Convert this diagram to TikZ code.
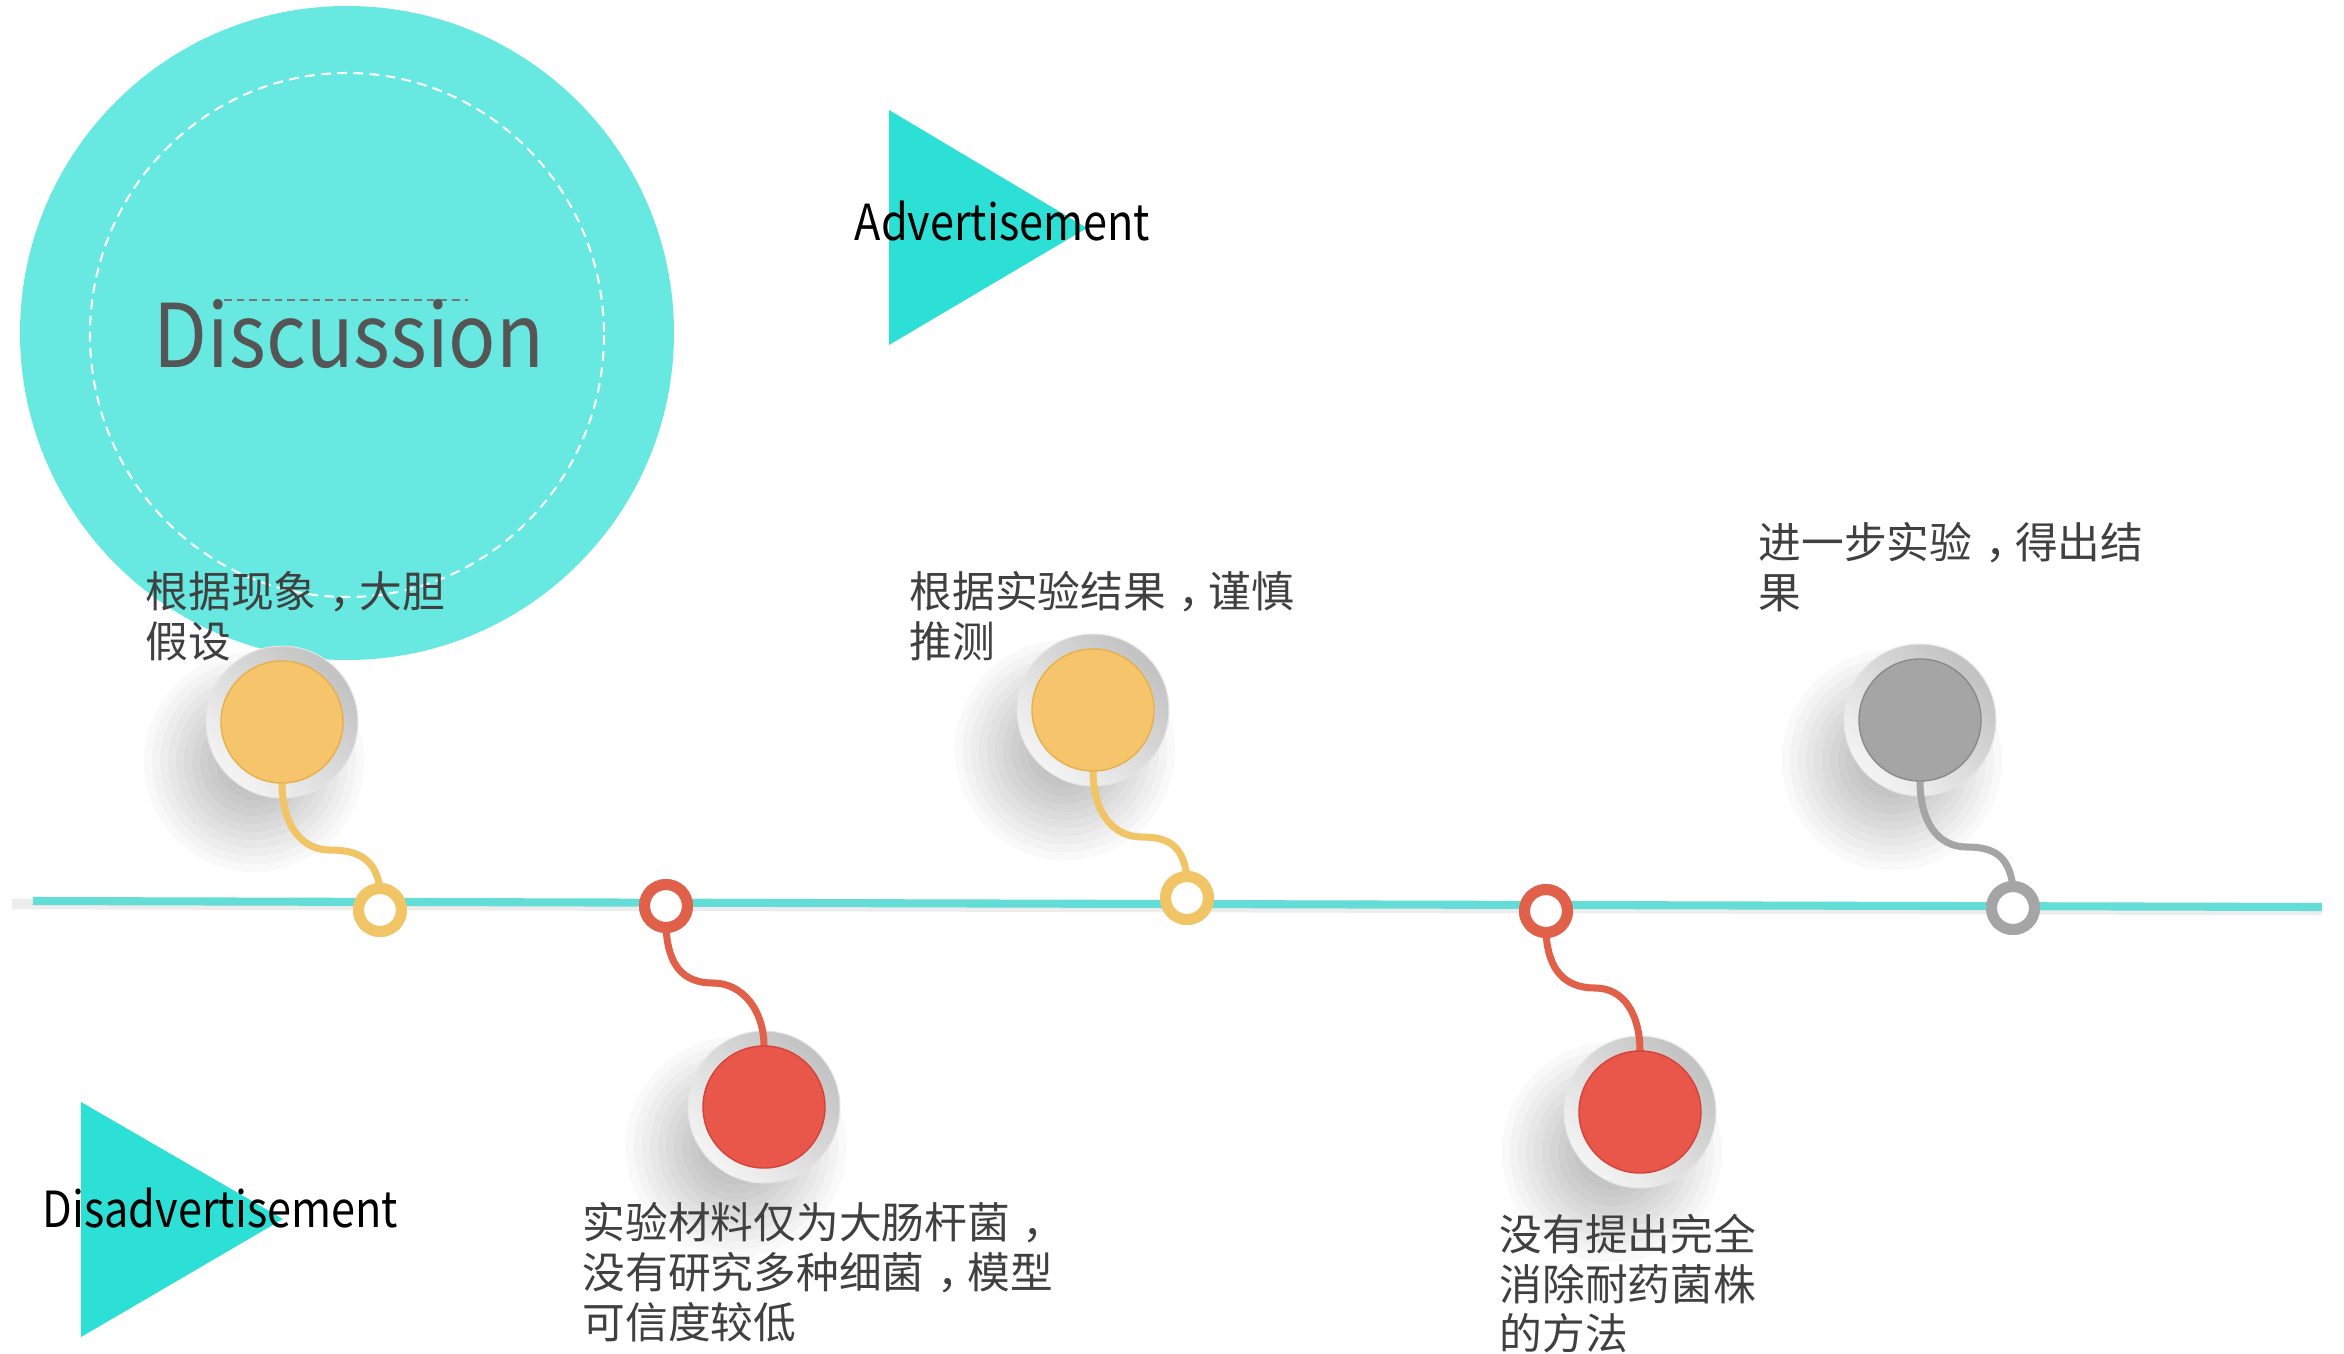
\documentclass[tikz,border=0pt]{standalone}
\usepackage{fontspec}
\usepackage{graphicx}
\newfontfamily\cjk{Noto Sans CJK SC}
\newcommand\zc{\kern0.3em，\kern-0.3em}
\definecolor{tealC}{HTML}{67E8E0}
\definecolor{triC}{HTML}{2DE0D5}
\definecolor{lineC}{HTML}{63DDD5}
\definecolor{yelC}{HTML}{F5C46B}
\definecolor{yelB}{HTML}{E6B04E}
\definecolor{yelR}{HTML}{F1C465}
\definecolor{redC}{HTML}{E8574A}
\definecolor{redB}{HTML}{D4433A}
\definecolor{redR}{HTML}{E0604A}
\definecolor{gryC}{HTML}{A5A5A5}
\definecolor{gryB}{HTML}{8A8A8A}
\definecolor{gryR}{HTML}{A5A5A5}
\definecolor{haloDark}{HTML}{C2C2C2}
\definecolor{haloLight}{HTML}{F4F4F4}
\definecolor{txtC}{HTML}{404040}
\definecolor{discC}{HTML}{555555}
\tikzset{
  bigdot/.style={circle, inner sep=0pt, outer sep=0pt, minimum size=34.7pt, line width=0.4pt},
  halo/.style={circle, inner sep=0pt, outer sep=0pt, minimum size=43.2pt, top color=haloDark, bottom color=haloLight, shading angle=-45, draw=black!10, line width=0.3pt},
  ringdot/.style={circle, inner sep=0pt, outer sep=0pt, minimum size=12.2pt, line width=3.13pt, fill=white},
  stem/.style={line width=2pt},
  cjklabel/.style={font=\cjk\fontsize{12.15pt}{14.2pt}\selectfont, text=txtC, align=left, inner sep=0pt, anchor=north west},
  latinlabel/.style={font=\cjk\fontsize{12.3pt}{14pt}\selectfont, text=black, inner sep=0pt, anchor=base west},
}
\newcommand\dropshadow[1]{%
  \foreach \rr in {30,38,...,110}{\fill[black,opacity=0.024] ([shift={(-28,40)}]#1) circle[radius=\rr];}}
\begin{document}
\begin{tikzpicture}[x=0.01cm, y=-0.01cm]
\useasboundingbox (0,0) rectangle (2344,1354);
\fill[white] (0,0) rectangle (2344,1354);

% big title circle
\fill[tealC] (347,333) circle[radius=327];
\draw[white, dash pattern=on 2.8pt off 1.8pt, line width=0.6pt] (347,335) ellipse[x radius=257, y radius=262];
\coordinate (dl1) at (224,300);
\coordinate (dl2) at (468,300);
\draw[discC!80, dash pattern=on 2.2pt off 1.4pt, line width=0.35pt] (dl1) -- (dl2);
\node[font=\cjk\fontsize{22.3pt}{26pt}\selectfont, text=discC, inner sep=0pt, anchor=base] (disc) at (349,367) {\scalebox{1}[1.12]{Discussion}};

% triangles
\fill[triC] (889,110) -- (889,345) -- (1087,228) -- cycle;
\node[latinlabel] (adv) at (854,240) {\scalebox{1}[1.15]{Advertisement}};
\fill[triC] (81,1102) -- (81,1337) -- (283,1219) -- cycle;
\node[latinlabel] (disadv) at (42,1227) {\scalebox{1}[1.15]{Disadvertisement}};

% positions
\coordinate (p1) at (282,722);  \coordinate (q1) at (380,910);  \coordinate (m1) at (330,850);
\coordinate (p2) at (764,1107); \coordinate (q2) at (666,906);  \coordinate (m2) at (713,983);
\coordinate (p3) at (1093,710); \coordinate (q3) at (1187,898); \coordinate (m3) at (1142,837);
\coordinate (p4) at (1640,1112);\coordinate (q4) at (1546,911); \coordinate (m4) at (1595,988);
\coordinate (p5) at (1920,720); \coordinate (q5) at (2013,908); \coordinate (m5) at (1967,847);

% shadows
\dropshadow{p1}\dropshadow{p2}\dropshadow{p3}\dropshadow{p4}\dropshadow{p5}

% timeline
\coordinate (L0) at (33,901);
\coordinate (L1) at (2322,907);
\draw[black, opacity=0.07, line width=3pt] (12,904) -- ([shift={(0,3)}]L1);
\draw[lineC, line width=2.3pt] (L0) -- (L1);

% halos
\node[halo] (h1) at (p1) {};
\node[halo] (h2) at (p2) {};
\node[halo] (h3) at (p3) {};
\node[halo] (h4) at (p4) {};
\node[halo] (h5) at (p5) {};

% rings
\node[ringdot, draw=yelR] (r1) at (q1) {};
\node[ringdot, draw=redR] (r2) at (q2) {};
\node[ringdot, draw=yelR] (r3) at (q3) {};
\node[ringdot, draw=redR] (r4) at (q4) {};
\node[ringdot, draw=gryR] (r5) at (q5) {};

% connectors
\draw[stem, yelR] (p1) -- ++(0,61) .. controls +(0,40) and +(-30,0) .. (m1) .. controls +(30,0) and +(-4,-28) .. (r1.north);
\draw[stem, redR] (r2.south) .. controls +(2,38) and +(-30,0) .. (m2) .. controls +(30,0) and +(0,-35) .. ([shift={(0,-61)}]p2) -- (p2);
\draw[stem, yelR] (p3) -- ++(0,61) .. controls +(0,40) and +(-30,0) .. (m3) .. controls +(30,0) and +(-4,-28) .. (r3.north);
\draw[stem, redR] (r4.south) .. controls +(2,38) and +(-30,0) .. (m4) .. controls +(30,0) and +(0,-35) .. ([shift={(0,-61)}]p4) -- (p4);
\draw[stem, gryR] (p5) -- ++(0,61) .. controls +(0,40) and +(-30,0) .. (m5) .. controls +(30,0) and +(-4,-28) .. (r5.north);

% redraw rings over connector ends
\node[ringdot, draw=yelR] at (q1) {};
\node[ringdot, draw=redR] at (q2) {};
\node[ringdot, draw=yelR] at (q3) {};
\node[ringdot, draw=redR] at (q4) {};
\node[ringdot, draw=gryR] at (q5) {};

% dots
\node[bigdot, fill=yelC, draw=yelB] (n1) at (p1) {};
\node[bigdot, fill=redC, draw=redB] (n2) at (p2) {};
\node[bigdot, fill=yelC, draw=yelB] (n3) at (p3) {};
\node[bigdot, fill=redC, draw=redB] (n4) at (p4) {};
\node[bigdot, fill=gryC, draw=gryB] (n5) at (p5) {};

% labels
\node[cjklabel] (t1) at (145,571) {根据现象\zc 大胆\\假设};
\node[cjklabel] (t3) at (909,571) {根据实验结果\zc 谨慎\\推测};
\node[cjklabel] (t5) at (1758,522) {进一步实验\zc 得出结\\果};
\node[cjklabel] (t2) at (582,1202) {实验材料仅为大肠杆菌\zc\\没有研究多种细菌\zc 模型\\可信度较低};
\node[cjklabel] (t4) at (1499,1213) {没有提出完全\\消除耐药菌株\\的方法};
\end{tikzpicture}
\end{document}
